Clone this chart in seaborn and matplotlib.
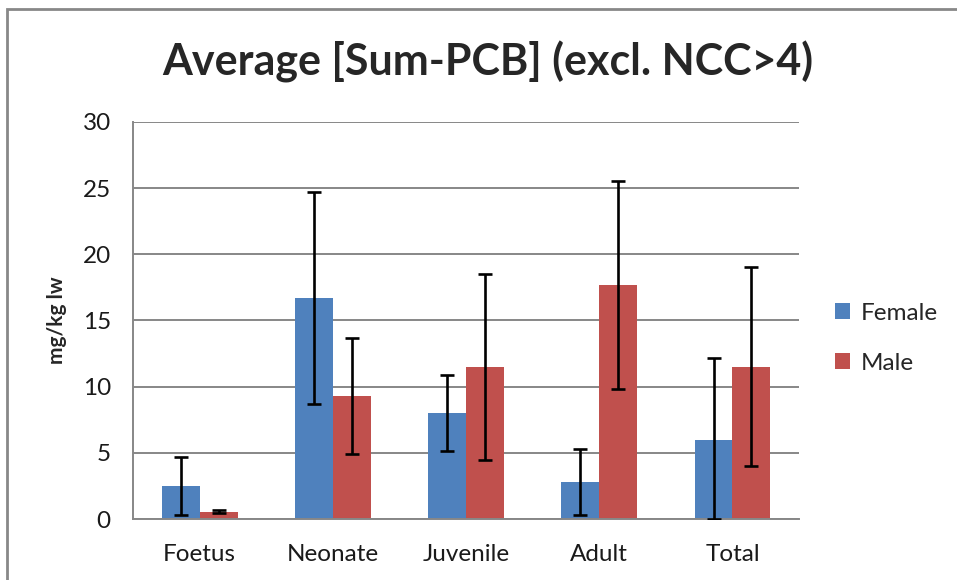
import pandas as pd
import matplotlib.pyplot as plt
import seaborn as sns
from matplotlib.patches import Rectangle

# values
stages = ['Foetus', 'Neonate', 'Juvenile', 'Adult', 'Total']
female_mean = [2.5, 16.7, 8.0, 2.8, 6.0]
female_err = [2.2, 8.0, 2.85, 2.5, 6.2]
male_mean = [0.55, 9.3, 11.5, 17.7, 11.5]
male_err = [0.1, 4.35, 7.0, 7.85, 7.5]

BLUE = '#4F81BD'
RED = '#C0504D'
GRID = '#878787'


def build_frame():
    rows = []
    for st, m in zip(stages, female_mean):
        rows.append({'stage': st, 'sex': 'Female', 'value': m})
    for st, m in zip(stages, male_mean):
        rows.append({'stage': st, 'sex': 'Male', 'value': m})
    return pd.DataFrame(rows)


def main():
    sns.set_style('white')
    plt.rcParams['font.family'] = ['Lato', 'DejaVu Sans']

    df = build_frame()
    fig = plt.figure(figsize=(9.57, 5.8), dpi=100)
    ax = fig.add_axes([0.139, 0.105, 0.696, 0.685])

    sns.barplot(data=df, x='stage', y='value', hue='sex', order=stages,
                hue_order=['Female', 'Male'], palette=[BLUE, RED],
                width=0.57, saturation=1, errorbar=None, linewidth=0,
                ax=ax, zorder=2)

    # error bars on top of each bar container
    for cont, errs in zip(ax.containers, [female_err, male_err]):
        xs = [p.get_x() + p.get_width() / 2 for p in cont.patches]
        hs = [p.get_height() for p in cont.patches]
        lo = [min(e, h) for e, h in zip(errs, hs)]
        ax.errorbar(xs, hs, yerr=[lo, errs], fmt='none', ecolor='black',
                    elinewidth=1.9, capsize=5, capthick=1.9, zorder=3)

    ax.set_ylim(0, 30)
    ax.set_xlim(-0.5, 4.5)
    ax.set_yticks(range(0, 31, 5))
    ax.yaxis.grid(True, color=GRID, linewidth=1.4, zorder=0)
    ax.set_axisbelow(True)

    for side in ['top', 'right']:
        ax.spines[side].set_visible(False)
    for side in ['left', 'bottom']:
        ax.spines[side].set_color(GRID)
        ax.spines[side].set_linewidth(1.4)

    ax.tick_params(axis='y', direction='out', length=5, width=1.4,
                   color=GRID, pad=11, labelsize=17.5, labelcolor='#1a1a1a')
    ax.tick_params(axis='x', which='major', length=0, pad=18,
                   labelsize=17.5, labelcolor='#1a1a1a')
    ax.set_xticks([-0.5, 0.5, 1.5, 2.5, 3.5, 4.5], minor=True)
    ax.tick_params(axis='x', which='minor', direction='out', length=6,
                   width=1.4, color=GRID)

    ax.set_xlabel('')
    ax.set_ylabel('mg/kg lw', fontsize=15, fontweight='bold', labelpad=11)

    handles, labels = ax.get_legend_handles_labels()
    ax.legend(handles, labels, loc='center left', bbox_to_anchor=(0.873, 0.417),
              bbox_transform=fig.transFigure, frameon=False, fontsize=17.5,
              handlelength=0.6, handleheight=0.6, handletextpad=0.45,
              labelspacing=1.2, borderpad=0, borderaxespad=0)

    fig.suptitle('Average [Sum-PCB] (excl. NCC>4)', x=0.51, y=0.93,
                 fontsize=31, fontweight='bold')

    # chart frame (left and top edges visible, rest cut off)
    fig.patches.append(Rectangle((0.0073, -0.05), 1.05, 1.0345, fill=False,
                                 edgecolor='#888888', linewidth=2,
                                 transform=fig.transFigure, figure=fig))

    fig.savefig('out.png', dpi=100)


if __name__ == '__main__':
    main()
